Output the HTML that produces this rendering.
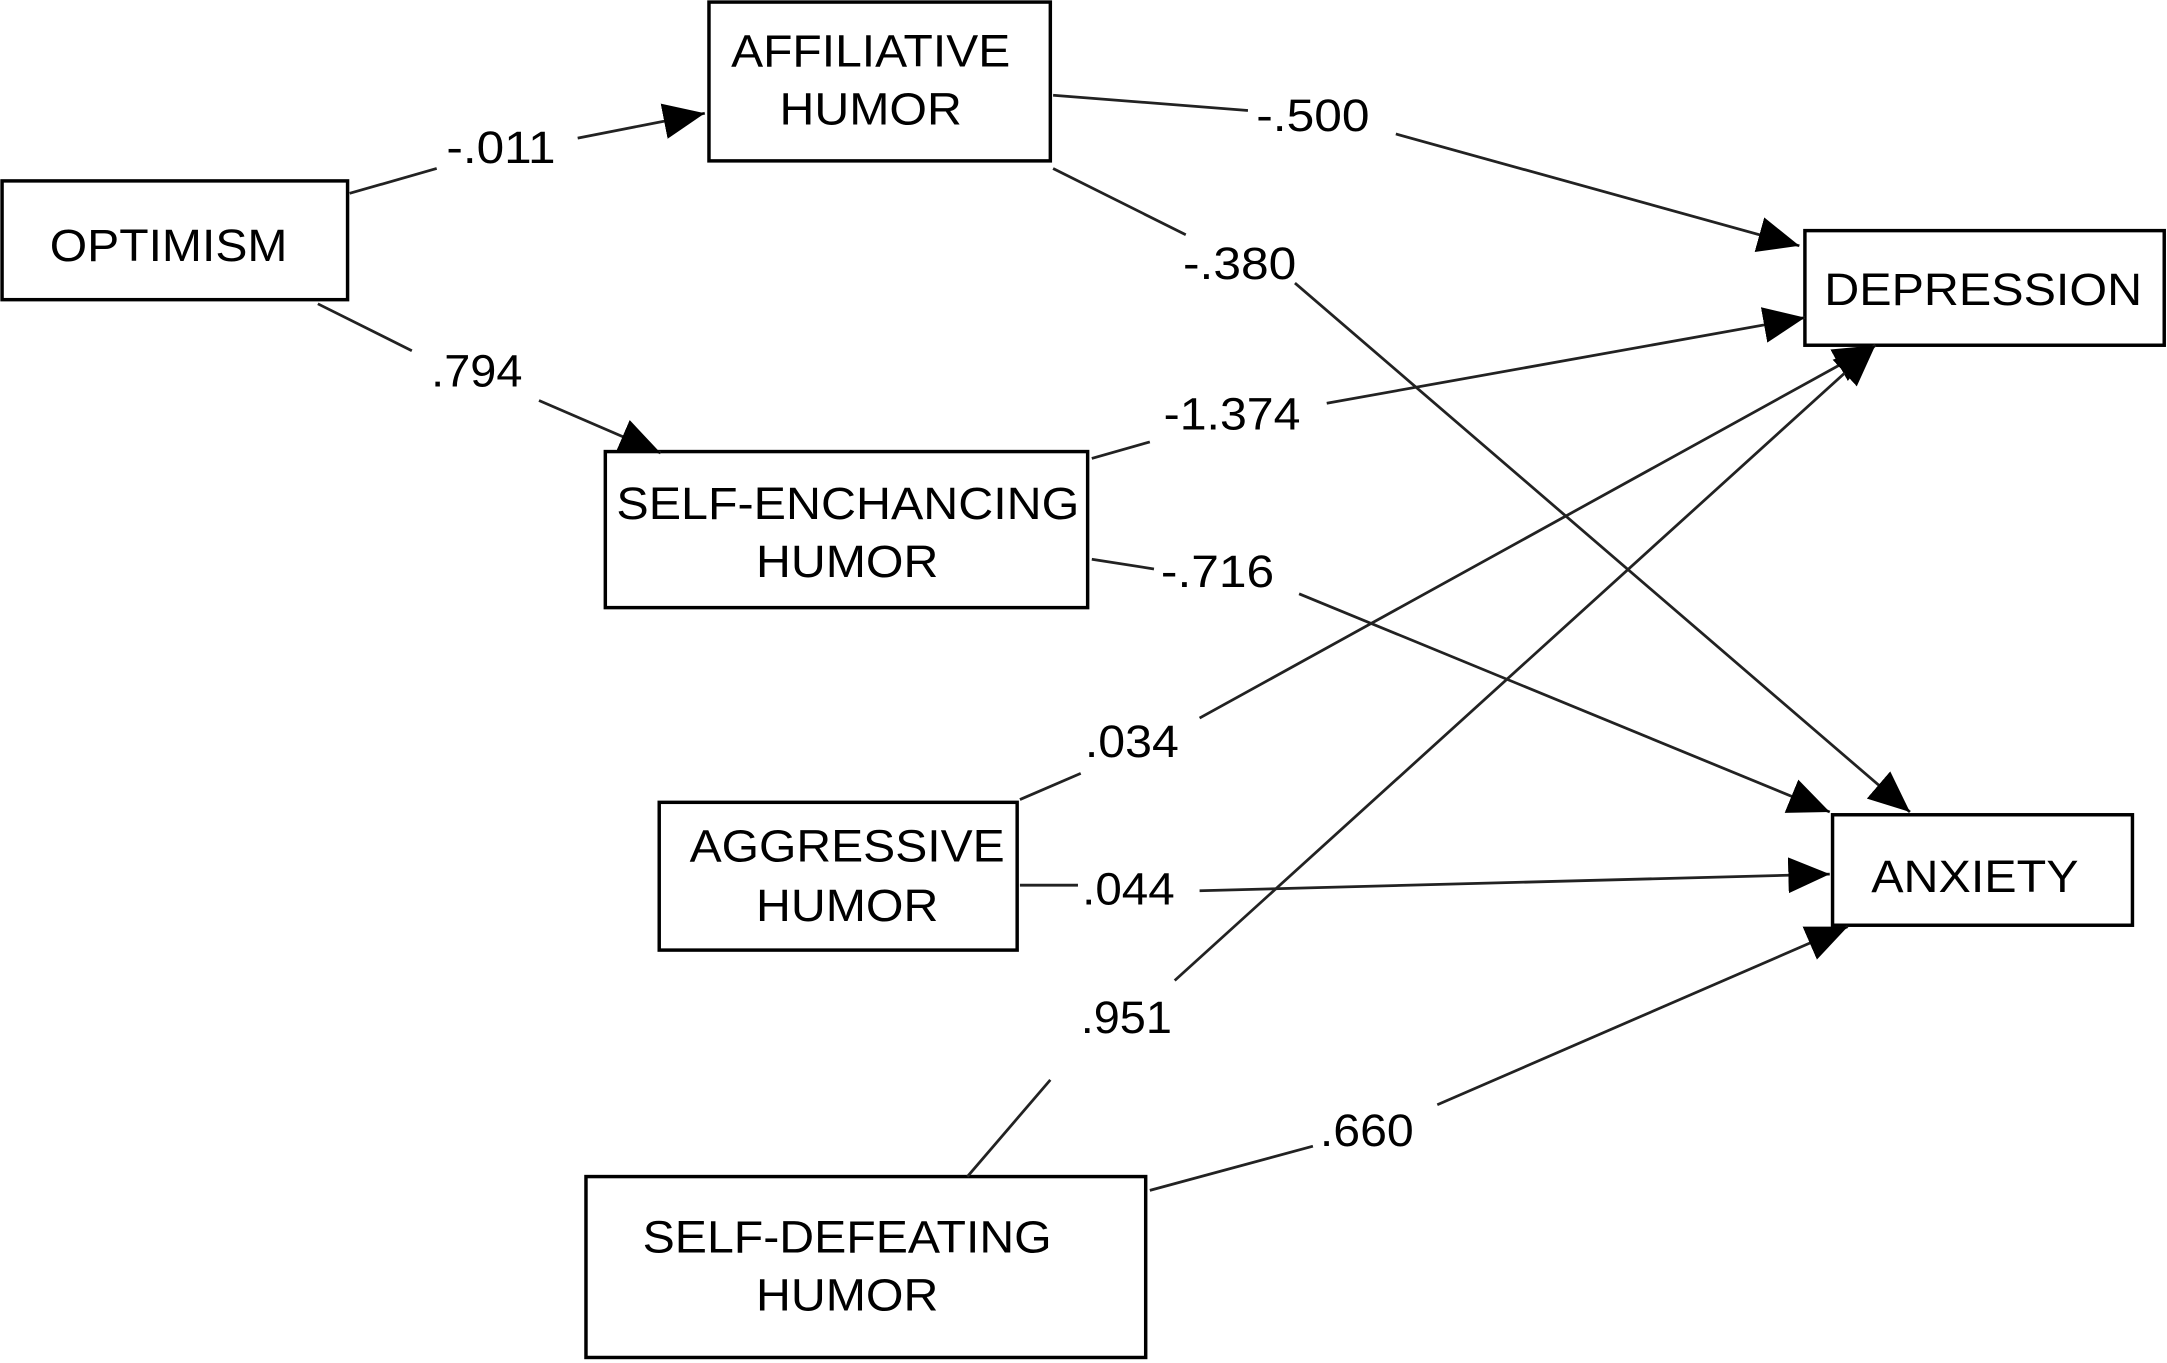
<!DOCTYPE html>
<html><head><meta charset="utf-8"><style>
html,body{margin:0;padding:0;background:#fff;}
svg{display:block;}
text{font-family:"Liberation Sans",Arial,sans-serif;font-size:33px;fill:#000;}
</style></head><body>
<svg width="2167" height="1363" viewBox="0 0 1568 987" preserveAspectRatio="none" xmlns="http://www.w3.org/2000/svg">
<defs>
<marker id="a" markerUnits="userSpaceOnUse" markerWidth="32" markerHeight="26" refX="30" refY="13" orient="auto">
<path d="M0,0 L30,13 L0,26 Z" fill="#000"/>
</marker>
</defs>
<g fill="none" stroke="#000" stroke-width="2.5">
<rect x="1.5" y="131" width="250" height="86"/>
<rect x="513" y="1.5" width="247" height="115"/>
<rect x="438" y="327" width="349" height="113"/>
<rect x="477" y="581" width="259" height="107"/>
<rect x="424" y="852" width="405" height="131"/>
<rect x="1306" y="167" width="260" height="83"/>
<rect x="1326" y="590" width="217" height="80"/>
</g>
<g fill="none" stroke="#222" stroke-width="2">
<line x1="253" y1="140" x2="316" y2="122"/>
<line x1="418" y1="100" x2="510" y2="82" marker-end="url(#a)"/>
<line x1="230" y1="220" x2="298" y2="254"/>
<line x1="390" y1="290" x2="478" y2="328" marker-end="url(#a)"/>
<line x1="762" y1="69" x2="903" y2="80"/>
<line x1="1010" y1="97" x2="1302" y2="178" marker-end="url(#a)"/>
<line x1="762" y1="122" x2="858" y2="170"/>
<line x1="937" y1="205" x2="1382" y2="588" marker-end="url(#a)"/>
<line x1="790" y1="332" x2="832" y2="320"/>
<line x1="960" y1="292" x2="1306" y2="230" marker-end="url(#a)"/>
<line x1="790" y1="405" x2="835" y2="412"/>
<line x1="940" y1="430" x2="1324" y2="588" marker-end="url(#a)"/>
<line x1="738" y1="579" x2="782" y2="560"/>
<line x1="868" y1="520" x2="1357" y2="250" marker-end="url(#a)"/>
<line x1="738" y1="641" x2="780" y2="641"/>
<line x1="868" y1="645" x2="1324" y2="633" marker-end="url(#a)"/>
<line x1="700" y1="852" x2="760" y2="782"/>
<line x1="850" y1="710" x2="1357" y2="250" marker-end="url(#a)"/>
<line x1="832" y1="862" x2="950" y2="830"/>
<line x1="1040" y1="800" x2="1337" y2="671" marker-end="url(#a)"/>
</g>
<text x="36" y="189" textLength="172" lengthAdjust="spacingAndGlyphs">OPTIMISM</text>
<text x="529" y="48" textLength="202" lengthAdjust="spacingAndGlyphs">AFFILIATIVE</text>
<text x="564" y="90" textLength="132" lengthAdjust="spacingAndGlyphs">HUMOR</text>
<text x="446" y="376" textLength="335" lengthAdjust="spacingAndGlyphs">SELF-ENCHANCING</text>
<text x="547" y="418" textLength="132" lengthAdjust="spacingAndGlyphs">HUMOR</text>
<text x="499" y="624" textLength="228" lengthAdjust="spacingAndGlyphs">AGGRESSIVE</text>
<text x="547" y="667" textLength="132" lengthAdjust="spacingAndGlyphs">HUMOR</text>
<text x="465" y="907" textLength="296" lengthAdjust="spacingAndGlyphs">SELF-DEFEATING</text>
<text x="547" y="949" textLength="132" lengthAdjust="spacingAndGlyphs">HUMOR</text>
<text x="1320" y="221" textLength="230" lengthAdjust="spacingAndGlyphs">DEPRESSION</text>
<text x="1354" y="646" textLength="150" lengthAdjust="spacingAndGlyphs">ANXIETY</text>
<text x="323" y="118" textLength="79" lengthAdjust="spacingAndGlyphs">-.011</text>
<text x="312" y="280" textLength="66" lengthAdjust="spacingAndGlyphs">.794</text>
<text x="909" y="95" textLength="82" lengthAdjust="spacingAndGlyphs">-.500</text>
<text x="856" y="202" textLength="82" lengthAdjust="spacingAndGlyphs">-.380</text>
<text x="842" y="311" textLength="99" lengthAdjust="spacingAndGlyphs">-1.374</text>
<text x="840" y="425" textLength="82" lengthAdjust="spacingAndGlyphs">-.716</text>
<text x="785" y="548" textLength="68" lengthAdjust="spacingAndGlyphs">.034</text>
<text x="783" y="655" textLength="67" lengthAdjust="spacingAndGlyphs">.044</text>
<text x="782" y="748" textLength="66" lengthAdjust="spacingAndGlyphs">.951</text>
<text x="955" y="830" textLength="68" lengthAdjust="spacingAndGlyphs">.660</text>
</svg>
</body></html>
